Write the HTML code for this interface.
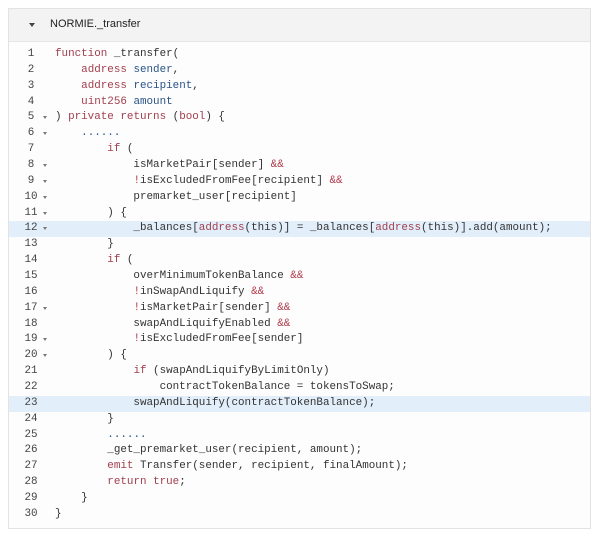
<!DOCTYPE html>
<html><head><meta charset="utf-8"><style>
body{margin:0;background:#fff;width:600px;height:538px;overflow:hidden}
.box{position:absolute;left:8px;top:8px;width:583px;height:521px;border:1px solid #e3e3e3;box-sizing:border-box;background:#fdfdfd}
.hdr{position:absolute;left:0;top:0;right:0;height:32px;background:#f3f3f3;border-bottom:1px solid #e6e6e6;font:11px "Liberation Sans",sans-serif;color:#222}
.hdr .t{position:absolute;left:41px;top:9px}
.hdr .a{position:absolute;left:20px;top:14px;width:0;height:0;border-left:3px solid transparent;border-right:3px solid transparent;border-top:4px solid #444}
.code{position:absolute;left:0;top:38px;right:0;font:10.9px/15.86px "Liberation Mono",monospace;color:#333}
.l{position:relative;height:15.86px;white-space:pre}
.l.hl{background:#e2eefa}
.n{position:absolute;left:12px;width:20px;text-align:center;color:#444}
.f{position:absolute;left:34px;top:6px;width:0;height:0;border-left:2.5px solid transparent;border-right:2.5px solid transparent;border-top:3px solid #777}
.c{position:absolute;left:46px}
.k{color:#a13f4d}.v{color:#2a5389}.r{color:#b03a4a}
</style></head><body>
<div class="box">
<div class="hdr"><div class="a"></div><div class="t">NORMIE._transfer</div></div>
<div class="code">
<div class="l"><span class="n">1</span><span class="c"><span class="k">function</span> _transfer(</span></div>
<div class="l"><span class="n">2</span><span class="c">    <span class="k">address</span> <span class="v">sender</span>,</span></div>
<div class="l"><span class="n">3</span><span class="c">    <span class="k">address</span> <span class="v">recipient</span>,</span></div>
<div class="l"><span class="n">4</span><span class="c">    <span class="k">uint256</span> <span class="v">amount</span></span></div>
<div class="l"><span class="n">5</span><span class="f"></span><span class="c">) <span class="k">private</span> <span class="k">returns</span> (<span class="k">bool</span>) {</span></div>
<div class="l"><span class="n">6</span><span class="f"></span><span class="c">    <span class="v">......</span></span></div>
<div class="l"><span class="n">7</span><span class="c">        <span class="k">if</span> (</span></div>
<div class="l"><span class="n">8</span><span class="f"></span><span class="c">            isMarketPair[sender] <span class="r">&amp;&amp;</span></span></div>
<div class="l"><span class="n">9</span><span class="f"></span><span class="c">            <span class="r">!</span>isExcludedFromFee[recipient] <span class="r">&amp;&amp;</span></span></div>
<div class="l"><span class="n">10</span><span class="f"></span><span class="c">            premarket_user[recipient]</span></div>
<div class="l"><span class="n">11</span><span class="f"></span><span class="c">        ) {</span></div>
<div class="l hl"><span class="n">12</span><span class="f"></span><span class="c">            _balances[<span class="k">address</span>(this)] = _balances[<span class="k">address</span>(this)].add(amount);</span></div>
<div class="l"><span class="n">13</span><span class="c">        }</span></div>
<div class="l"><span class="n">14</span><span class="c">        <span class="k">if</span> (</span></div>
<div class="l"><span class="n">15</span><span class="c">            overMinimumTokenBalance <span class="r">&amp;&amp;</span></span></div>
<div class="l"><span class="n">16</span><span class="c">            <span class="r">!</span>inSwapAndLiquify <span class="r">&amp;&amp;</span></span></div>
<div class="l"><span class="n">17</span><span class="f"></span><span class="c">            <span class="r">!</span>isMarketPair[sender] <span class="r">&amp;&amp;</span></span></div>
<div class="l"><span class="n">18</span><span class="c">            swapAndLiquifyEnabled <span class="r">&amp;&amp;</span></span></div>
<div class="l"><span class="n">19</span><span class="f"></span><span class="c">            <span class="r">!</span>isExcludedFromFee[sender]</span></div>
<div class="l"><span class="n">20</span><span class="f"></span><span class="c">        ) {</span></div>
<div class="l"><span class="n">21</span><span class="c">            <span class="k">if</span> (swapAndLiquifyByLimitOnly)</span></div>
<div class="l"><span class="n">22</span><span class="c">                contractTokenBalance = tokensToSwap;</span></div>
<div class="l hl"><span class="n">23</span><span class="c">            swapAndLiquify(contractTokenBalance);</span></div>
<div class="l"><span class="n">24</span><span class="c">        }</span></div>
<div class="l"><span class="n">25</span><span class="c">        <span class="v">......</span></span></div>
<div class="l"><span class="n">26</span><span class="c">        _get_premarket_user(recipient, amount);</span></div>
<div class="l"><span class="n">27</span><span class="c">        <span class="k">emit</span> Transfer(sender, recipient, finalAmount);</span></div>
<div class="l"><span class="n">28</span><span class="c">        <span class="k">return</span> <span class="k">true</span>;</span></div>
<div class="l"><span class="n">29</span><span class="c">    }</span></div>
<div class="l"><span class="n">30</span><span class="c">}</span></div>
</div></div>
</body></html>
